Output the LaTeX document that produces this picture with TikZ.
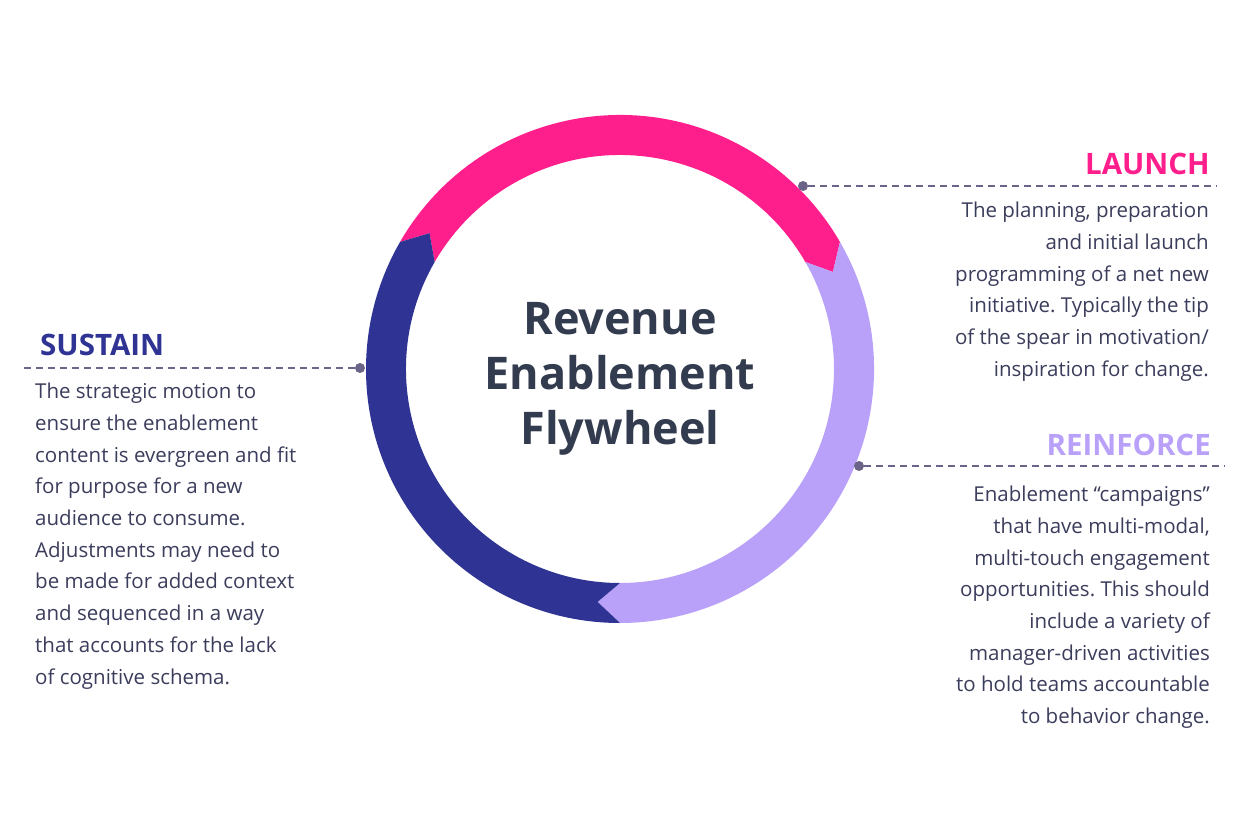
\documentclass[tikz,border=0pt]{standalone}
\usepackage{fontspec}
\setmainfont{Open Sans}
\definecolor{launchpink}{HTML}{FF1F8C}
\definecolor{reinforcelav}{HTML}{B9A1FA}
\definecolor{sustainnavy}{HTML}{2F3393}
\definecolor{hubtext}{HTML}{333B4F}
\definecolor{bodytext}{HTML}{3B3D5C}
\definecolor{leadergray}{HTML}{6B6388}
\frenchspacing

\begin{document}
\begin{tikzpicture}[x=1pt, y=-1pt,
    dot/.style={circle, fill=leadergray, inner sep=0pt, minimum size=10pt},
    leader/.style={leadergray, line width=1.4pt, dash pattern=on 7pt off 5pt},
    heading/.style={font=\fontsize{29.5}{34}\selectfont\bfseries, inner sep=0pt},
    body/.style={font=\fontsize{20.5}{31.7}\selectfont, text=bodytext, inner sep=0pt},
    hubtitle/.style={font=\fontsize{45}{55}\selectfont\bfseries, text=hubtext, align=center, inner sep=0pt, anchor=north}
]
\useasboundingbox (0,0) rectangle (1258,826);
\fill[white] (0,0) rectangle (1258,826);

% flywheel ring, three arrow segments
\begin{scope}[shift={(620,369)}]
\fill[launchpink] (-150:254) arc[start angle=-150, end angle=-30, radius=254] -- (-24.5:234)
    -- (-30:214) arc[start angle=-30, end angle=-150, radius=214] -- (-144.5:234) -- cycle;
\fill[reinforcelav] (-30:254) arc[start angle=-30, end angle=90, radius=254] -- (95.5:234)
    -- (90:214) arc[start angle=90, end angle=-30, radius=214] -- (-24.5:234) -- cycle;
\fill[sustainnavy] (90:254) arc[start angle=90, end angle=210, radius=254] -- (215.5:234)
    -- (210:214) arc[start angle=210, end angle=90, radius=214] -- (95.5:234) -- cycle;
\end{scope}

\node[hubtitle] (hub) at (620,302) {Revenue\\Enablement\\Flywheel};

% launch
\node[dot] (launchdot) at (803,186) {};
\coordinate (launchend) at (1217,186);
\draw[leader] (launchdot) -- (launchend);
\node[heading, text=launchpink, anchor=base east] (launch) at (1210,175) {LAUNCH};
\node[body, align=right, anchor=north east] (launchtext) at (1209,202)
    {The planning, preparation\\and initial launch\\programming of a net new\\initiative. Typically the tip\\of the spear in motivation/\\inspiration for change.};

% reinforce
\node[dot] (reinforcedot) at (859,466) {};
\coordinate (reinforceend) at (1225,466);
\draw[leader] (reinforcedot) -- (reinforceend);
\node[heading, text=reinforcelav, anchor=base east] (reinforce) at (1211,455) {REINFORCE};
\node[body, align=right, anchor=north east] (reinforcetext) at (1210,486)
    {Enablement “campaigns”\\that have multi-modal,\\multi-touch engagement\\opportunities. This should\\include a variety of\\manager-driven activities\\to hold teams accountable\\to behavior change.};

% sustain
\node[dot] (sustaindot) at (360,368) {};
\coordinate (sustainend) at (22,368);
\draw[leader] (sustaindot) -- (sustainend);
\node[heading, text=sustainnavy, anchor=base west] (sustain) at (40,355) {SUSTAIN};
\node[body, align=left, anchor=north west] (sustaintext) at (35,383)
    {The strategic motion to\\ensure the enablement\\content is evergreen and fit\\for purpose for a new\\audience to consume.\\Adjustments may need to\\be made for added context\\and sequenced in a way\\that accounts for the lack\\of cognitive schema.};
\end{tikzpicture}
\end{document}
